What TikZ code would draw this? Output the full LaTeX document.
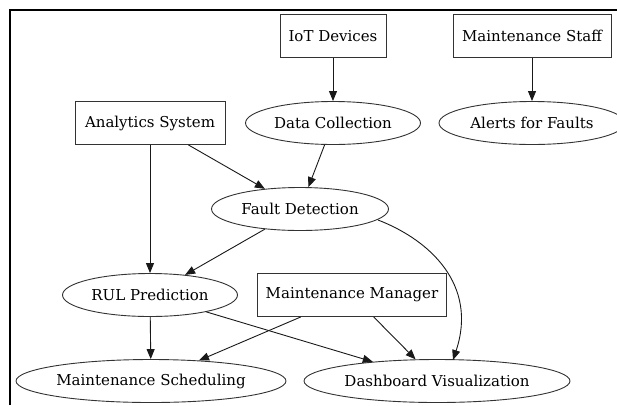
\documentclass[tikz,border=0pt]{standalone}
\usepackage{fontspec}
\setmainfont{DejaVu Serif}
\usetikzlibrary{shapes.geometric,arrows.meta,calc}
\begin{document}
\begin{tikzpicture}[x=1pt,y=-1pt,
  every node/.style={font=\fontsize{15}{17}\selectfont, text=black},
  boxnode/.style={draw=black!80, line width=0.9pt, rectangle, inner sep=0pt, minimum height=43pt},
  ellnode/.style={draw=black!80, line width=0.9pt, ellipse, inner sep=0pt, minimum height=43pt},
  edge/.style={draw=black!90, line width=0.9pt, -{Triangle[length=10pt,width=8pt]}}]
\useasboundingbox (0,0) rectangle (617,405);
\draw[line width=2pt] (10,405) -- (10,10) -- (617,10);
\node[boxnode, minimum width=106pt] (iot) at (333,36) {IoT Devices};
\node[boxnode, minimum width=158pt] (staff) at (532,36) {Maintenance Staff};
\node[boxnode, minimum width=150pt] (ana) at (150,123) {Analytics System};
\node[ellnode, minimum width=175pt] (dc) at (333,123) {Data Collection};
\node[ellnode, minimum width=186pt] (alert) at (532,123) {Alerts for Faults};
\node[ellnode, minimum width=177pt] (fd) at (300,209) {Fault Detection};
\node[ellnode, minimum width=175pt] (rul) at (150,295) {RUL Prediction};
\node[boxnode, minimum width=189pt] (mgr) at (352,295) {Maintenance Manager};
\node[ellnode, minimum width=270pt] (sch) at (151,381) {Maintenance Scheduling};
\node[ellnode, minimum width=266pt] (dash) at (437,381) {Dashboard Visualization};
\coordinate (anaout) at ($(ana.south east)+(-37,0)$);
\coordinate (fdout) at (378,220);
\coordinate (dashin) at (453,360);
\draw[edge] (iot) -- (dc);
\draw[edge] (staff) -- (alert);
\draw[edge] (anaout) -- (fd);
\draw[edge] (dc) -- (fd);
\draw[edge] (ana) -- (rul);
\draw[edge] (fd) -- (rul);
\draw[edge] (fdout) .. controls (430,240) and (478,285) .. (dashin);
\draw[edge] (rul) -- (sch);
\draw[edge] (rul) -- (dash);
\draw[edge] (mgr) -- (sch);
\draw[edge] (mgr) -- (dash);
\end{tikzpicture}
\end{document}
